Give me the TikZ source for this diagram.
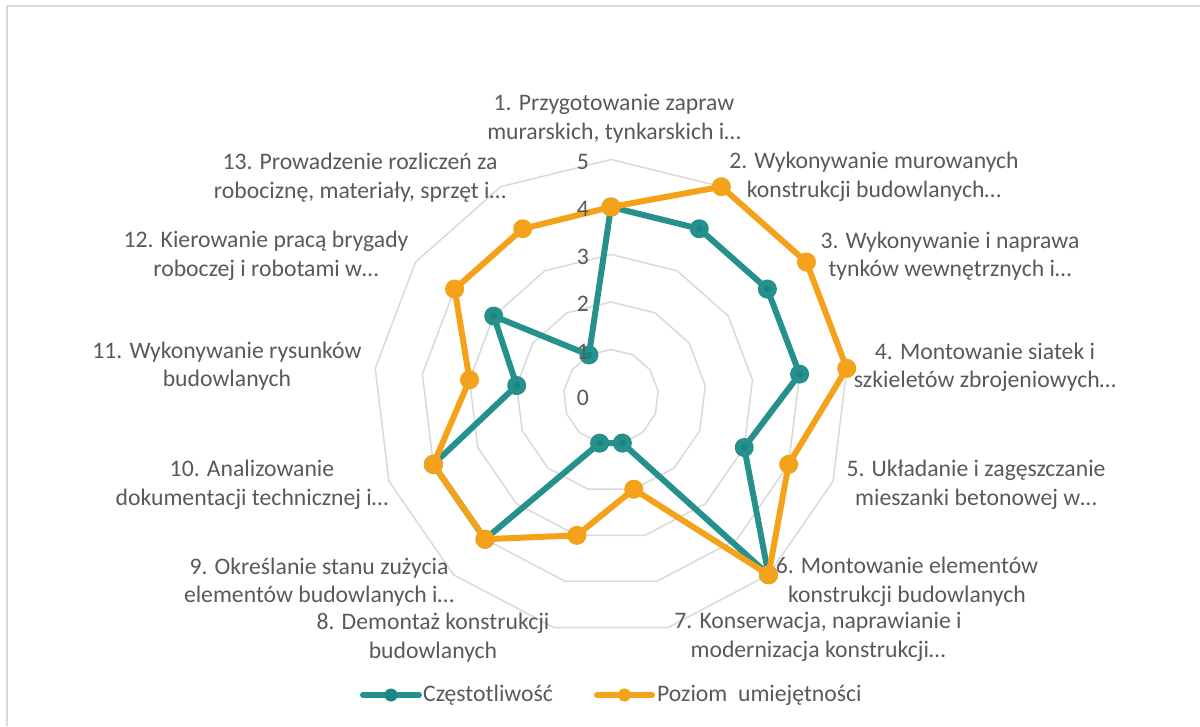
\documentclass[tikz,border=0pt]{standalone}
\usepackage{fontspec}
\setmainfont{Carlito}
\usepackage{tikz}

\definecolor{tealline}{RGB}{38,144,141}
\definecolor{tealmark}{RGB}{24,134,130}
\definecolor{orangeline}{RGB}{245,162,27}
\definecolor{gridgray}{RGB}{217,217,217}
\definecolor{textgray}{RGB}{89,89,89}

\begin{document}
\begin{tikzpicture}
  [x=1pt, y=1pt,
   grid ring/.style={draw=gridgray, line width=1.5pt, line join=round},
   teal series/.style={draw=tealline, line width=6pt, line join=round,
     mark=*, mark size=6.5pt, mark options={draw=none, fill=tealmark}},
   orange series/.style={draw=orangeline, line width=6pt, line join=round,
     mark=*, mark size=6.5pt, mark options={draw=none, fill=orangeline}},
   axis label/.style={text=textgray, align=center, inner sep=0pt,
     font=\fontsize{23.7}{28.5}\selectfont},
   tick label/.style={text=textgray, anchor=east, inner sep=0pt,
     font=\fontsize{23.7}{28.5}\selectfont}]
  \useasboundingbox (-611, -329) rectangle (589, 397);
  % frame
  \draw[gridgray, line width=1.5pt] (-604, -329) -- (-604, 391) -- (589, 391);
  % rings
  \foreach \r in {47.5, 95, 142.5, 190, 237.5}
    \draw[grid ring] (90:\r) \foreach \a in {1,...,12} { -- ({90-\a*27.6923}:\r) } -- cycle;
  % series
  \draw[teal series] plot coordinates {(90:190) (62.3077:190) (34.6154:190)
    (6.9231:190) (-20.7692:142.5) (-48.4615:237.5) (-76.1538:47.5)
    (-103.8462:47.5) (-131.5385:190) (-159.2308:190) (173.0769:95)
    (145.3846:142.5) (117.6923:47.5)} -- cycle;
  \draw[orange series] plot coordinates {(90:190) (62.3077:237.5) (34.6154:237.5)
    (6.9231:237.5) (-20.7692:190) (-48.4615:237.5) (-76.1538:95)
    (-103.8462:142.5) (-131.5385:190) (-159.2308:190) (173.0769:142.5)
    (145.3846:190) (117.6923:190)} -- cycle;
  % scale
  \node[tick label] (v0) at (-22, -1) {0};
  \node[tick label] (v1) at (-22, 45.5) {1};
  \node[tick label] (v2) at (-22, 93) {2};
  \node[tick label] (v3) at (-22, 140.5) {3};
  \node[tick label] (v4) at (-22, 188) {4};
  \node[tick label] (v5) at (-22, 235.5) {5};
  % category labels
  \node[axis label] (l1) at (3, 278) {1. Przygotowanie zapraw\\murarskich, tynkarskich i…};
  \node[axis label] (l2) at (263, 220) {2. Wykonywanie murowanych\\konstrukcji budowlanych…};
  \node[axis label] (l3) at (339, 141) {3. Wykonywanie i naprawa\\tynków wewnętrznych i…};
  \node[axis label] (l4) at (374, 29.5) {4. Montowanie siatek i\\szkieletów zbrojeniowych…};
  \node[axis label] (l5) at (365, -88) {5. Układanie i zagęszczanie\\mieszanki betonowej w…};
  \node[axis label] (l6) at (296, -185) {6. Montowanie elementów\\konstrukcji budowlanych};
  \node[axis label] (l7) at (207, -240) {7. Konserwacja, naprawianie i\\modernizacja konstrukcji…};
  \node[axis label] (l8) at (-178, -240.5) {8. Demontaż konstrukcji\\budowlanych};
  \node[axis label] (l9) at (-292, -185) {9. Określanie stanu zużycia\\elementów budowlanych i…};
  \node[axis label] (l10) at (-359, -88) {10. Analizowanie\\dokumentacji technicznej i…};
  \node[axis label] (l11) at (-384, 31) {11. Wykonywanie rysunków\\budowlanych};
  \node[axis label] (l12) at (-345, 141) {12. Kierowanie pracą brygady\\roboczej i robotami w…};
  \node[axis label] (l13) at (-251, 219.5) {13. Prowadzenie rozliczeń za\\robociznę, materiały, sprzęt i…};
  % legend
  \coordinate (tA) at (-248, -298);
  \coordinate (tM) at (-220, -298);
  \coordinate (tB) at (-192, -298);
  \coordinate (oA) at (-14, -298);
  \coordinate (oM) at (13.5, -298);
  \coordinate (oB) at (41, -298);
  \draw[tealline, line width=6pt, line cap=round] (tA) -- (tB);
  \fill[tealmark] (tM) circle (6.5);
  \node[axis label, anchor=west] (lgT) at (-188, -298) {Częstotliwość};
  \draw[orangeline, line width=6pt, line cap=round] (oA) -- (oB);
  \fill[orangeline] (oM) circle (6.5);
  \node[axis label, anchor=west] (lgO) at (46, -298) {Poziom\ \ umiejętności};
\end{tikzpicture}
\end{document}
